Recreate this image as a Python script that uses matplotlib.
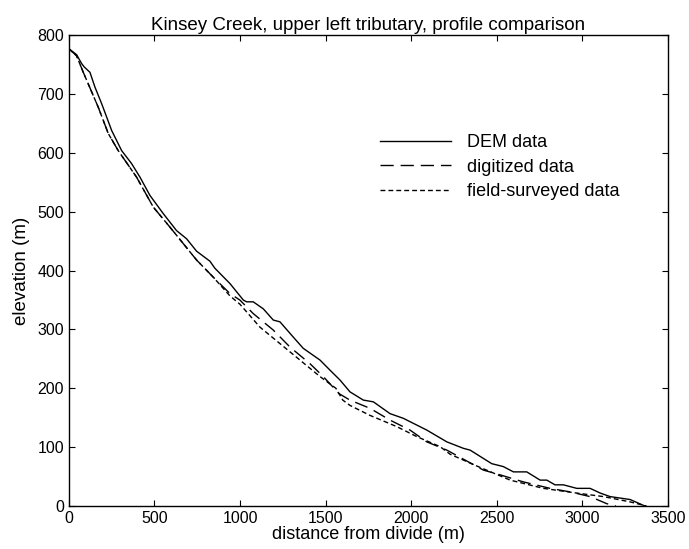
import matplotlib
matplotlib.use("Agg")
import matplotlib.pyplot as plt

plt.rcParams['font.family'] = ['Liberation Sans', 'DejaVu Sans']
plt.rcParams['lines.scale_dashes'] = False

# DEM profile (solid)
dem_x = [0, 45, 74, 90, 123, 152, 191, 250, 308, 366, 415, 473, 551, 629, 688, 746, 824, 853,
         941, 1019, 1038, 1077, 1136, 1194, 1233, 1311, 1369, 1467, 1525, 1584, 1642, 1720,
         1779, 1876, 1954, 2091, 2208, 2305, 2344, 2470, 2538, 2597, 2675, 2753, 2792, 2840,
         2889, 2967, 3045, 3104, 3162, 3279, 3365]
dem_y = [777, 767, 752, 746, 737, 712, 684, 638, 604, 582, 559, 528, 497, 468, 454, 433, 416, 404,
         378, 350, 347, 347, 335, 316, 313, 287, 268, 248, 231, 214, 194, 180,
         177, 157, 149, 129, 109, 98, 95, 72, 67, 58, 58, 44, 44, 36,
         36, 30, 30, 22, 16, 11, 0]

dig_x = [0, 45, 84, 171, 230, 288, 395, 493, 590, 746, 843, 941, 999, 1077, 1194, 1292, 1408,
         1486, 1578, 1642, 1759, 1876, 1993, 2091, 2208, 2422, 2519, 2655, 2811, 2928, 3045,
         3142, 3195]
dig_y = [777, 765, 737, 678, 633, 604, 559, 508, 474, 418, 389, 361, 350, 327, 299, 270, 242,
         220, 191, 180, 166, 146, 129, 109, 95, 61, 53, 41, 30, 24, 16,
         4, 0]

# field-surveyed profile (short dash)
fld_x = [0, 45, 84, 171, 230, 288, 395, 493, 590, 746, 843, 941, 999, 1116, 1233, 1350, 1467,
         1560, 1600, 1642, 1759, 1915, 2032, 2168, 2227, 2305, 2383, 2578, 2772, 2967, 3123,
         3279, 3375]
fld_y = [777, 765, 737, 678, 633, 604, 559, 508, 474, 418, 389, 357, 343, 304, 276, 248, 220,
         200, 180, 171, 154, 135, 118, 101, 88, 78, 68, 44, 30, 22, 16,
         7, 0]

fig = plt.figure(figsize=(6.89, 5.49), dpi=100)
ax = fig.add_axes([0.100, 0.0783, 0.8695, 0.8575])

lw = 1.0
ax.plot(dem_x, dem_y, color='black', lw=lw, label='DEM data')
ax.plot(dig_x, dig_y, color='black', lw=lw, dashes=(9.5, 5), label='digitized data')
ax.plot(fld_x, fld_y, color='black', lw=lw, dashes=(3.5, 2.2), label='field-surveyed data')

ax.set_xlim(0, 3500)
ax.set_ylim(0, 800)
ax.set_xticks(range(0, 3501, 500))
ax.set_yticks(range(0, 801, 100))
ax.tick_params(direction='in', length=4, width=0.8, top=True, right=True, labelsize=11.5)
for s in ax.spines.values():
    s.set_linewidth(1.0)

ax.set_title('Kinsey Creek, upper left tributary, profile comparison', fontsize=13.5, pad=4)
ax.set_xlabel('distance from divide (m)', fontsize=13, labelpad=0)
ax.set_ylabel('elevation (m)', fontsize=13.5, labelpad=5)

ax.legend(loc='upper left', bbox_to_anchor=(0.52, 0.79), frameon=False, fontsize=13,
          handlelength=3.9, handletextpad=0.9, labelspacing=0.42, borderpad=0, borderaxespad=0)

plt.savefig('out.png', dpi=100)
